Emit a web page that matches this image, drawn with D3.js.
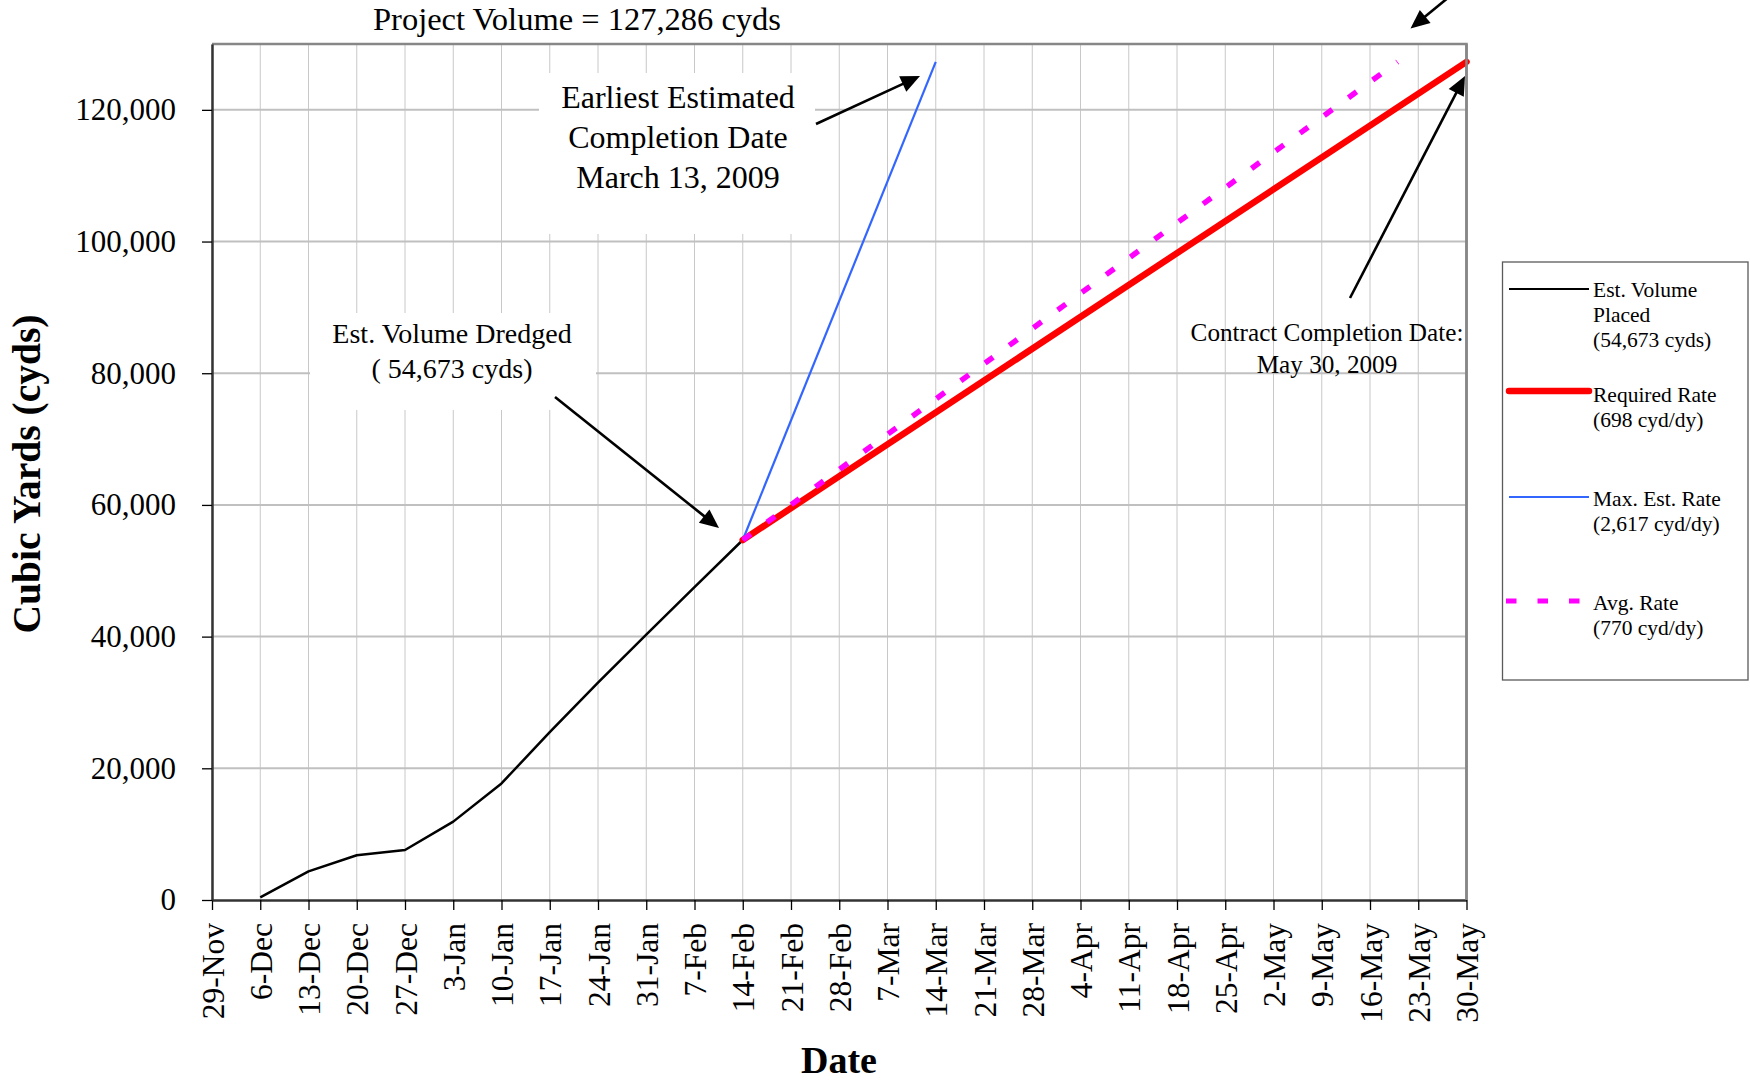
<!DOCTYPE html>
<html>
<head>
<meta charset="utf-8">
<script src="https://cdn.jsdelivr.net/npm/d3@7"></script>
<style>
  html, body { margin: 0; padding: 0; background: #fff; }
  svg { display: block; }
  text { font-family: "Liberation Serif", "Times New Roman", "DejaVu Serif", serif; fill: #000; }
</style>
</head>
<body>
<svg id="chart" width="1750" height="1080"></svg>
<script>
// ---------- DATA ----------
const tickDates = ["2008-11-29","2008-12-06","2008-12-13","2008-12-20","2008-12-27","2009-01-03","2009-01-10","2009-01-17","2009-01-24","2009-01-31","2009-02-07","2009-02-14","2009-02-21","2009-02-28","2009-03-07","2009-03-14","2009-03-21","2009-03-28","2009-04-04","2009-04-11","2009-04-18","2009-04-25","2009-05-02","2009-05-09","2009-05-16","2009-05-23","2009-05-30"];
const tickLabels = ["29-Nov","6-Dec","13-Dec","20-Dec","27-Dec","3-Jan","10-Jan","17-Jan","24-Jan","31-Jan","7-Feb","14-Feb","21-Feb","28-Feb","7-Mar","14-Mar","21-Mar","28-Mar","4-Apr","11-Apr","18-Apr","25-Apr","2-May","9-May","16-May","23-May","30-May"];
const yTicks = [0, 20000, 40000, 60000, 80000, 100000, 120000];

const placedDates  = ["2008-12-06","2008-12-13","2008-12-20","2008-12-27","2009-01-03","2009-01-10","2009-01-17","2009-01-24","2009-01-31","2009-02-07","2009-02-14"];
const placedValues = [400, 4350, 6800, 7600, 11900, 17700, 25500, 33000, 40300, 47500, 54673];

const requiredDates  = ["2009-02-14","2009-05-30"];
const requiredValues = [54673, 127286];

const maxRateDates  = ["2009-02-14","2009-03-14"];
const maxRateValues = [54673, 127286];

const avgRateDates  = ["2009-02-14","2009-05-20"];
const avgRateValues = [54673, 127286];

const legendLabels = [
  ["Est. Volume", "Placed", "(54,673 cyds)"],
  ["Required Rate", "(698 cyd/dy)"],
  ["Max. Est. Rate", "(2,617 cyd/dy)"],
  ["Avg. Rate", "(770 cyd/dy)"]
];

// ---------- SETUP ----------
const parse = d3.utcParse("%Y-%m-%d");
const svg = d3.select("#chart");
const L = 212, R = 1466.5, T = 44, B = 900;

const x = d3.scaleUtc().domain([parse(tickDates[0]), parse(tickDates[tickDates.length-1])]).range([L, R]);
const y = d3.scaleLinear().domain([0, 130000]).range([B, T]);

const zip = (ds, vs) => ds.map((d, i) => ({ date: parse(d), v: vs[i] }));
const line = d3.line().x(d => x(d.date)).y(d => y(d.v));

svg.append("rect").attr("width", 1750).attr("height", 1080).attr("fill", "#fff");

// gridlines
svg.append("g").selectAll("line").data(tickDates.map(parse)).join("line")
  .attr("x1", d => x(d)).attr("x2", d => x(d))
  .attr("y1", T).attr("y2", B)
  .attr("stroke", "#c8c8c8").attr("stroke-width", 1);
svg.append("g").selectAll("line").data(yTicks.slice(1)).join("line")
  .attr("x1", L).attr("x2", R)
  .attr("y1", d => y(d)).attr("y2", d => y(d))
  .attr("stroke", "#c0c0c0").attr("stroke-width", 2);

// white annotation boxes
svg.append("rect").attr("x", 539).attr("y", 73).attr("width", 276).attr("height", 161).attr("fill", "#fff");
svg.append("rect").attr("x", 310).attr("y", 313).attr("width", 286).attr("height", 97).attr("fill", "#fff");

// top & right border
svg.append("path").attr("d", `M${L},${T}H${R}V${B}`).attr("fill", "none")
  .attr("stroke", "#878787").attr("stroke-width", 2.5);

// axes
const xAxis = svg.append("g").attr("transform", `translate(0,${B})`)
  .call(d3.axisBottom(x).tickValues(tickDates.map(parse)).tickFormat((d, i) => tickLabels[i]).tickSize(10).tickSizeOuter(0));
xAxis.select(".domain").attr("stroke", "#333").attr("stroke-width", 2.5);
xAxis.selectAll(".tick line").attr("stroke", "#000").attr("stroke-width", 1.3);
xAxis.selectAll(".tick text")
  .attr("transform", "rotate(-90)")
  .attr("x", -23).attr("y", 0).attr("dy", "0.35em")
  .attr("text-anchor", "end")
  .style("font-family", "'Liberation Serif', 'Times New Roman', serif")
  .style("font-size", "31.5px").attr("fill", "#000");

const yAxis = svg.append("g").attr("transform", `translate(${L},0)`)
  .call(d3.axisLeft(y).tickValues(yTicks).tickFormat(d3.format(",")).tickSize(10).tickPadding(26).tickSizeOuter(0));
yAxis.select(".domain").attr("stroke", "#333").attr("stroke-width", 2.5);
yAxis.selectAll(".tick line").attr("stroke", "#000").attr("stroke-width", 1.3);
yAxis.selectAll(".tick text")
  .style("font-family", "'Liberation Serif', 'Times New Roman', serif")
  .style("font-size", "31px").attr("fill", "#000");

// axis titles
svg.append("text").attr("transform", "translate(40,474) rotate(-90)")
  .attr("text-anchor", "middle").style("font-size", "39.5px").style("font-weight", "bold")
  .text("Cubic Yards (cyds)");
svg.append("text").attr("x", 839).attr("y", 1073)
  .attr("text-anchor", "middle").style("font-size", "38px").style("font-weight", "bold")
  .text("Date");

// chart title
svg.append("text").attr("x", 577).attr("y", 30).attr("text-anchor", "middle")
  .style("font-size", "32.5px").text("Project Volume = 127,286 cyds");

// series
svg.append("path").datum(zip(placedDates, placedValues)).attr("d", line)
  .attr("fill", "none").attr("stroke", "#000").attr("stroke-width", 2.5).attr("stroke-linejoin", "round");
svg.append("path").datum(zip(requiredDates, requiredValues)).attr("d", line)
  .attr("fill", "none").attr("stroke", "#ff0000").attr("stroke-width", 6.5).attr("stroke-linecap", "round");
svg.append("path").datum(zip(maxRateDates, maxRateValues)).attr("d", line)
  .attr("fill", "none").attr("stroke", "#3366ff").attr("stroke-width", 2.2);
svg.append("path").datum(zip(avgRateDates, avgRateValues)).attr("d", line)
  .attr("fill", "none").attr("stroke", "#ff00ff").attr("stroke-width", 5.5).attr("stroke-dasharray", "10,20");

// right border over red line end
svg.append("line").attr("x1", R).attr("x2", R).attr("y1", T).attr("y2", B)
  .attr("stroke", "#878787").attr("stroke-width", 2.5);

// annotation texts
const ann1 = ["Earliest Estimated", "Completion Date", "March 13, 2009"];
svg.append("g").selectAll("text").data(ann1).join("text")
  .attr("x", 678).attr("y", (d, i) => 108 + i * 40).attr("text-anchor", "middle")
  .style("font-size", "32px").text(d => d);
const ann2 = ["Est. Volume Dredged", "( 54,673 cyds)"];
svg.append("g").selectAll("text").data(ann2).join("text")
  .attr("x", 452).attr("y", (d, i) => 343 + i * 35).attr("text-anchor", "middle")
  .style("font-size", "28px").text(d => d);
const ann3 = ["Contract Completion Date:", "May 30, 2009"];
svg.append("g").selectAll("text").data(ann3).join("text")
  .attr("x", 1327).attr("y", (d, i) => 341 + i * 32).attr("text-anchor", "middle")
  .style("font-size", "25.2px").text(d => d);

// arrows
function arrow(x1, y1, x2, y2) {
  const dx = x2 - x1, dy = y2 - y1, len = Math.hypot(dx, dy);
  const ux = dx / len, uy = dy / len;
  const hl = 19, hw = 8.5;
  const bx = x2 - ux * hl, by = y2 - uy * hl;
  svg.append("line").attr("x1", x1).attr("y1", y1).attr("x2", bx + ux * 2).attr("y2", by + uy * 2)
    .attr("stroke", "#000").attr("stroke-width", 2.6);
  svg.append("path")
    .attr("d", `M${x2},${y2}L${bx - uy * hw},${by + ux * hw}L${bx + uy * hw},${by - ux * hw}Z`)
    .attr("fill", "#000");
}
arrow(816, 124, 920, 76);
arrow(555, 397, 719, 528);
arrow(1350, 298, 1465, 76);
arrow(1449, -3, 1410.5, 28.5);

// legend
svg.append("rect").attr("x", 1502.5).attr("y", 262).attr("width", 245.5).attr("height", 418)
  .attr("fill", "#fff").attr("stroke", "#5a5a5a").attr("stroke-width", 1.3);
const legendY = [289, 391, 497, 601];
const legendBase = [296.7, 401.7, 506, 610];
const legendStyle = [
  { stroke: "#000", w: 2.2, x1: 1509, x2: 1589 },
  { stroke: "#ff0000", w: 6.5, x1: 1509, x2: 1589, cap: "round" },
  { stroke: "#3366ff", w: 2.2, x1: 1509, x2: 1589 },
  { stroke: "#ff00ff", w: 5, x1: 1506, x2: 1580, dash: "10.5,21" }
];
legendLabels.forEach((lines, i) => {
  const s = legendStyle[i];
  svg.append("line").attr("x1", s.x1).attr("x2", s.x2).attr("y1", legendY[i]).attr("y2", legendY[i])
    .attr("stroke", s.stroke).attr("stroke-width", s.w)
    .attr("stroke-linecap", s.cap || "butt")
    .attr("stroke-dasharray", s.dash || null);
  svg.append("g").selectAll("text").data(lines).join("text")
    .attr("x", 1593).attr("y", (d, j) => legendBase[i] + j * 25)
    .style("font-size", "21.5px").text(d => d);
});
</script>
</body>
</html>
